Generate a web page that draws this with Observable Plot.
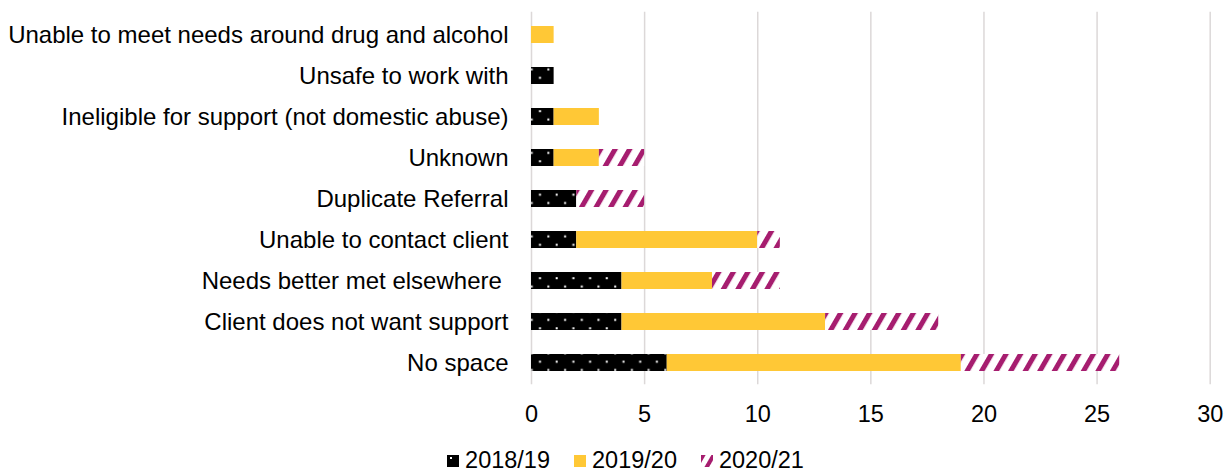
<!DOCTYPE html>
<html>
<head>
<meta charset="utf-8">
<script src="https://cdn.jsdelivr.net/npm/d3@7"></script>
<script src="https://cdn.jsdelivr.net/npm/@observablehq/plot@0.6"></script>
<style>
  body { margin: 0; background: #fff; font-family: "Liberation Sans", Arial, sans-serif; color: #000; }
  #legend { display: flex; justify-content: center; align-items: center; height: 31px; padding-left: 20px; font-size: 23.5px; }
  .item { display: flex; align-items: center; margin: 0 12px; }
  .item svg { margin-right: 6px; }
  g[aria-label="x-axis tick label"] text { font-size: 23.5px; }
</style>
</head>
<body>
<svg width="0" height="0" style="position:absolute">
  <defs>
    <pattern id="dots" patternUnits="userSpaceOnUse" width="16.7" height="16.7">
      <rect width="16.7" height="16.7" fill="#000"></rect>
      <rect x="4.6" y="10" width="2" height="2" fill="#fff"></rect>
      <rect x="13" y="1.6" width="2" height="2" fill="#fff"></rect>
    </pattern>
    <pattern id="stripes" patternUnits="userSpaceOnUse" width="12.6" height="12.6" patternTransform="rotate(30)">
      <rect width="12.6" height="12.6" fill="#fff"></rect>
      <rect width="5" height="12.6" fill="#a61d6f"></rect>
    </pattern>
    <pattern id="dotsLegend" patternUnits="userSpaceOnUse" width="12" height="12">
      <rect width="12" height="12" fill="#000"></rect>
      <rect x="3" y="2" width="2" height="2" fill="#fff"></rect>
    </pattern>
    <pattern id="stripesLegend" patternUnits="userSpaceOnUse" width="9" height="9" patternTransform="rotate(30)">
      <rect width="9" height="9" fill="#fff"></rect>
      <rect width="4" height="9" fill="#a61d6f"></rect>
    </pattern>
  </defs>
</svg>
<div id="chart"></div>
<div id="legend"></div>
<script>
const categories = [
  "Unable to meet needs around drug and alcohol",
  "Unsafe to work with",
  "Ineligible for support (not domestic abuse)",
  "Unknown",
  "Duplicate Referral",
  "Unable to contact client",
  "Needs better met elsewhere\u00a0",
  "Client does not want support",
  "No space"
];
const series = ["2018/19", "2019/20", "2020/21"];
const v2018 = [0, 1, 1, 1, 2, 2, 4, 4, 6];
const v2019 = [1, 0, 2, 2, 0, 8, 4, 9, 13];
const v2020 = [0, 0, 0, 2, 3, 1, 3, 5, 7];
const xTicks = [0, 5, 10, 15, 20, 25, 30];

const fills = ["url(#dots)", "#ffc836", "url(#stripes)"];
const legendFills = ["url(#dotsLegend)", "#ffc836", "url(#stripesLegend)"];

const valuesBySeries = [v2018, v2019, v2020];
const rows = [];
series.forEach((s, si) => {
  categories.forEach((c, ci) => {
    rows.push({category: c, series: s, value: valuesBySeries[si][ci]});
  });
});

const chart = Plot.plot({
  width: 1231,
  height: 445,
  marginLeft: 531,
  marginRight: 21.3,
  marginTop: 11.8,
  marginBottom: 60.8,
  style: {fontFamily: "'Liberation Sans', Arial, sans-serif", fontSize: "24px", color: "#000", background: "#fff", overflow: "visible"},
  x: {domain: [0, 30], ticks: xTicks, tickSize: 0, tickPadding: 21, label: null},
  y: {domain: categories, paddingInner: 0.596, paddingOuter: 0.298, tickSize: 0, tickPadding: 23, label: null},
  color: {domain: series, range: fills},
  marks: [
    Plot.ruleX(xTicks, {stroke: "#dcd8d8", strokeWidth: 1.5}),
    Plot.barX(rows, Plot.stackX({x: "value", y: "category", fill: "series"}))
  ]
});
document.getElementById("chart").appendChild(chart);

const legend = d3.select("#legend");
series.forEach((s, i) => {
  const item = legend.append("div").attr("class", "item");
  const sw = item.append("svg").attr("width", 12).attr("height", 12);
  sw.append("rect").attr("width", 12).attr("height", 12).attr("fill", legendFills[i]);
  item.append("span").text(s);
});
</script>
</body>
</html>
